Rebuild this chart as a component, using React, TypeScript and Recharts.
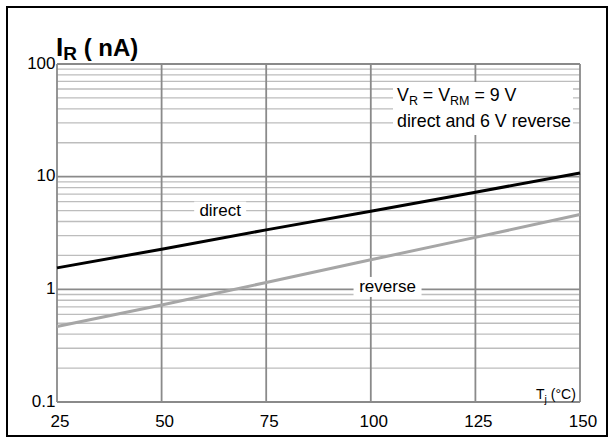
import { LineChart, Line, XAxis, YAxis, ReferenceLine, ReferenceDot } from "recharts";

// junction temperature (°C)
const temps = [25, 50, 75, 100, 125, 150];
// leakage current I_R (nA)
const directNA = [1.55, 2.27, 3.37, 4.93, 7.27, 10.8];
const reverseNA = [0.467, 0.726, 1.15, 1.83, 2.89, 4.61];

const xTicks = [25, 50, 75, 100, 125, 150];
const yTicks = [0.1, 1, 10, 100];
const yMinor = [
  0.2, 0.3, 0.4, 0.5, 0.6, 0.7, 0.8, 0.9,
  2, 3, 4, 5, 6, 7, 8, 9,
  20, 30, 40, 50, 60, 70, 80, 90,
];

// curve labels: [temperature, current]
const directLabelAt = [64, 5];
const reverseLabelAt = [104, 1.05];

const data = temps.map((t, i) => ({ t, direct: directNA[i], reverse: reverseNA[i] }));

const FONT = '"Liberation Sans", Arial, Helvetica, sans-serif';
const MAJOR = "#8a8a8a";
const MINOR = "#bdbdbd";

function XTick({ x, y, payload }: any) {
  return (
    <text x={x + 3} y={y} textAnchor="middle" dominantBaseline="central" fontSize={17} fontFamily={FONT} fill="#000">
      {payload.value}
    </text>
  );
}

function YTick({ x, y, payload }: any) {
  return (
    <text x={x} y={y - 1} textAnchor="end" dominantBaseline="central" fontSize={17} fontFamily={FONT} fill="#000">
      {payload.value}
    </text>
  );
}

function boxLabel(text: string, w: number, h: number) {
  return ({ cx, cy }: any) => (
    <g>
      <rect x={cx - w / 2} y={cy - h / 2} width={w} height={h} fill="#fff" />
      <text x={cx} y={cy} textAnchor="middle" dominantBaseline="central" fontSize={17} fontFamily={FONT} fill="#000">
        {text}
      </text>
    </g>
  );
}

export default function App() {
  return (
    <div style={{ position: "absolute", left: 0, top: 0, width: 615, height: 442, background: "#fff" }}>
      <LineChart width={615} height={442} data={data} margin={{ top: 64, right: 35, bottom: 0, left: 0 }}>
        <XAxis
          dataKey="t"
          type="number"
          domain={[25, 150]}
          ticks={xTicks}
          height={40}
          axisLine={false}
          tickLine={false}
          tickSize={0}
          tickMargin={19}
          tick={<XTick />}
        />
        <YAxis
          type="number"
          scale="log"
          domain={[0.1, 100]}
          ticks={yTicks}
          width={57}
          axisLine={false}
          tickLine={false}
          tickSize={0}
          tickMargin={1.5}
          tick={<YTick />}
        />
        {yMinor.map((v) => (
          <ReferenceLine key={"m" + v} y={v} stroke={MINOR} strokeWidth={1.3} />
        ))}
        {yTicks.map((v) => (
          <ReferenceLine key={"y" + v} y={v} stroke={MAJOR} strokeWidth={1.8} />
        ))}
        {xTicks.map((v) => (
          <ReferenceLine key={"x" + v} x={v} stroke={MAJOR} strokeWidth={1.8} />
        ))}
        <Line
          type="linear"
          dataKey="reverse"
          stroke="#a6a6a6"
          strokeWidth={3}
          dot={false}
          isAnimationActive={false}
        />
        <Line
          type="linear"
          dataKey="direct"
          stroke="#000"
          strokeWidth={3}
          dot={false}
          isAnimationActive={false}
        />
        <ReferenceDot x={directLabelAt[0]} y={directLabelAt[1]} r={0} shape={boxLabel("direct", 52, 18)} />
        <ReferenceDot x={reverseLabelAt[0]} y={reverseLabelAt[1]} r={0} shape={boxLabel("reverse", 68, 20)} />
      </LineChart>
      <svg
        width={615}
        height={442}
        style={{ position: "absolute", left: 0, top: 0, pointerEvents: "none" }}
        fontFamily={FONT}
      >
        <rect x={7} y={7} width={600} height={429} fill="none" stroke="#000" strokeWidth={2} />
        <text x={56} y={56} fontWeight="bold" fill="#000">
          <tspan fontSize={26}>I</tspan>
          <tspan fontSize={19} dy={4}>R</tspan>
          <tspan fontSize={24} dy={-4}>{" ( nA)"}</tspan>
        </text>
        <rect x={393} y={82} width={180} height={53} fill="#fff" />
        <text x={397} y={101} fontSize={17.8} fill="#000">
          <tspan>V</tspan>
          <tspan fontSize={12.5} dy={4}>R</tspan>
          <tspan dy={-4}>{" = V"}</tspan>
          <tspan fontSize={12.5} dy={4}>RM</tspan>
          <tspan dy={-4}>{" = 9 V"}</tspan>
        </text>
        <text x={397} y={127} fontSize={17.8} fill="#000">
          direct and 6 V reverse
        </text>
        <text x={536} y={399} fontSize={14} fill="#000">
          <tspan>T</tspan>
          <tspan fontSize={10.5} dy={4}>j</tspan>
          <tspan dy={-4}>{" (°C)"}</tspan>
        </text>
      </svg>
    </div>
  );
}
